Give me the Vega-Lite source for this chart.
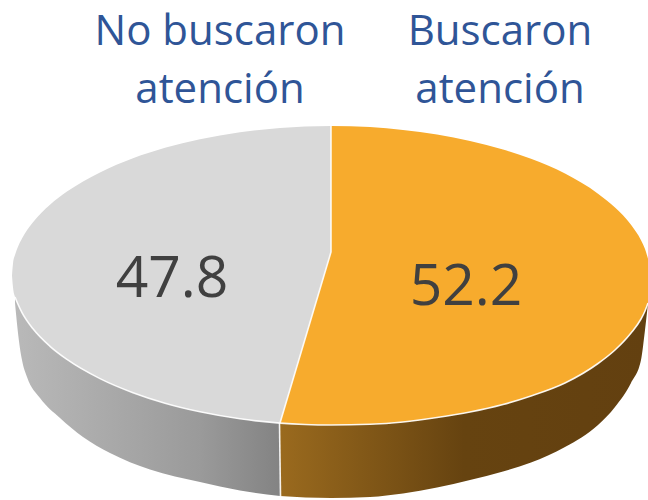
{
"$schema":"https://vega.github.io/schema/vega-lite/v6.json",
"width":648,"height":500,"autosize":{"type":"none"},"padding":0,
"background":"white","view":{"stroke":null},
"datasets":{
"graySide":[{"x":15,"y":297,"y2":303},{"x":18,"y":304.3,"y2":333},{"x":22,"y":312.6,"y2":360},{"x":27,"y":320.8,"y2":377},{"x":40,"y":336.8,"y2":398},{"x":60,"y":354.4,"y2":418},{"x":83,"y":369.5,"y2":437},{"x":110,"y":383.3,"y2":453},{"x":150,"y":398.6,"y2":469.5},{"x":200,"y":411.8,"y2":482},{"x":240,"y":418.8,"y2":490.5},{"x":280,"y":423.1,"y2":496}],
"orangeSide":[{"x":280,"y":423.1,"y2":496},{"x":331,"y":425,"y2":498},{"x":370,"y":424.3,"y2":497},{"x":403,"y":422,"y2":493.5},{"x":437,"y":417.5,"y2":487.5},{"x":470,"y":412,"y2":480},{"x":503,"y":404.5,"y2":471.5},{"x":531,"y":396,"y2":462.5},{"x":565,"y":383,"y2":447},{"x":598,"y":363.5,"y2":425},{"x":615,"y":350,"y2":407},{"x":631,"y":333,"y2":383},{"x":641,"y":319,"y2":360},{"x":645,"y":311,"y2":330},{"x":648,"y":303,"y2":303}],
"grayTop":[{"x":12,"y":275.5,"y2":275.5},{"x":13,"y":263.7,"y2":287.3},{"x":15,"y":255.1,"y2":297},{"x":18,"y":246.7,"y2":304.3},{"x":22,"y":238.4,"y2":312.6},{"x":33,"y":222.2,"y2":328.8},{"x":50,"y":204.7,"y2":346.3},{"x":67,"y":191.6,"y2":359.4},{"x":100,"y":172.4,"y2":378.6},{"x":133,"y":158.3,"y2":392.7},{"x":165,"y":147.8,"y2":403.2},{"x":200,"y":139.2,"y2":411.8},{"x":240,"y":132.2,"y2":418.8},{"x":280,"y":127.9,"y2":423.1}],
"grayWedge":[{"x":280,"y":127.9,"y2":423.1},{"x":305,"y":126.5,"y2":339},{"x":331,"y":126,"y2":252}],
"orangeWedge":[{"x":280,"y":423.1,"y2":423.1},{"x":305,"y":339,"y2":424.5},{"x":331,"y":252,"y2":425}],
"orangeTop":[{"x":331,"y":126,"y2":425},{"x":370,"y":127.1,"y2":424.3},{"x":403,"y":129.9,"y2":422},{"x":437,"y":134.5,"y2":417.5},{"x":470,"y":140.9,"y2":412},{"x":503,"y":149.6,"y2":404.5},{"x":531,"y":158.8,"y2":396},{"x":565,"y":173.6,"y2":383},{"x":598,"y":193.7,"y2":363.5},{"x":615,"y":207.5,"y2":350},{"x":631,"y":224.7,"y2":333},{"x":641,"y":240.2,"y2":319},{"x":645,"y":249.1,"y2":311},{"x":648,"y":258.8,"y2":303}],
"rim":[{"x":15,"y":297},{"x":18,"y":304.3},{"x":22,"y":312.6},{"x":33,"y":328.8},{"x":50,"y":346.3},{"x":67,"y":359.4},{"x":100,"y":378.6},{"x":133,"y":392.7},{"x":165,"y":403.2},{"x":200,"y":411.8},{"x":240,"y":418.8},{"x":280,"y":423.1},{"x":305,"y":424.5},{"x":331,"y":425},{"x":370,"y":424.3},{"x":403,"y":422},{"x":437,"y":417.5},{"x":470,"y":412},{"x":503,"y":404.5},{"x":531,"y":396},{"x":565,"y":383},{"x":598,"y":363.5},{"x":615,"y":350},{"x":631,"y":333},{"x":641,"y":319},{"x":645,"y":311},{"x":648,"y":303}],
"lines":[
{"g":"slice","i":1,"x":331,"y":126},{"g":"slice","i":2,"x":331,"y":252},{"g":"slice","i":3,"x":280,"y":423.1},
{"g":"edge","i":1,"x":279.5,"y":423.1},{"g":"edge","i":2,"x":280.5,"y":496}
],
"labels":[
{"t":"No buscaron","x":220,"y":45,"k":"h"},{"t":"atención","x":220,"y":103,"k":"h"},{"t":"Buscaron","x":500,"y":45,"k":"h"},{"t":"atención","x":500,"y":103,"k":"h"},
{"t":"47.8","x":172,"y":297,"k":"v"},{"t":"52.2","x":466,"y":305,"k":"v"}]
},
"encoding":{
"x":{"field":"x","type":"quantitative","scale":{"domain":[0,648],"nice":false,"zero":false},"axis":null},
"y":{"field":"y","type":"quantitative","scale":{"domain":[500,0],"nice":false,"zero":false},"axis":null}
},
"layer":[
{"data":{"name":"graySide"},"mark":{"type":"area","interpolate":"monotone","fill":{"gradient":"linear","x1":0,"y1":0,"x2":1,"y2":0,"stops":[{"offset":0,"color":"#b9b9b9"},{"offset":0.7,"color":"#9a9a9a"},{"offset":1,"color":"#838383"}]}},"encoding":{"y2":{"field":"y2"}}},
{"data":{"name":"orangeSide"},"mark":{"type":"area","interpolate":"monotone","fill":{"gradient":"linear","x1":0,"y1":0,"x2":1,"y2":0,"stops":[{"offset":0,"color":"#9a6a1e"},{"offset":0.5,"color":"#664310"},{"offset":1,"color":"#634010"}]}},"encoding":{"y2":{"field":"y2"}}},
{"data":{"name":"grayTop"},"mark":{"type":"area","interpolate":"monotone","fill":"#d9d9d9"},"encoding":{"y2":{"field":"y2"}}},
{"data":{"name":"grayWedge"},"mark":{"type":"area","fill":"#d9d9d9"},"encoding":{"y2":{"field":"y2"}}},
{"data":{"name":"orangeWedge"},"mark":{"type":"area","fill":"#f7ab2d"},"encoding":{"y2":{"field":"y2"}}},
{"data":{"name":"orangeTop"},"mark":{"type":"area","interpolate":"monotone","fill":"#f7ab2d"},"encoding":{"y2":{"field":"y2"}}},
{"data":{"name":"rim"},"mark":{"type":"line","interpolate":"monotone","stroke":"#ffffff","strokeWidth":1.6,"opacity":0.9}},
{"data":{"name":"lines"},"mark":{"type":"line","stroke":"#ffffff","strokeWidth":1.6,"opacity":0.9},"encoding":{"detail":{"field":"g"},"order":{"field":"i","type":"ordinal"}}},
{"data":{"name":"labels"},"transform":[{"filter":"datum.k=='h'"}],"mark":{"type":"text","font":"Open Sans","fontSize":42,"fill":"#2f5597","align":"center","baseline":"alphabetic"},"encoding":{"text":{"field":"t"}}},
{"data":{"name":"labels"},"transform":[{"filter":"datum.k=='v'"}],"mark":{"type":"text","font":"Open Sans","fontSize":57,"fill":"#404040","align":"center","baseline":"alphabetic"},"encoding":{"text":{"field":"t"}}}
]
}
